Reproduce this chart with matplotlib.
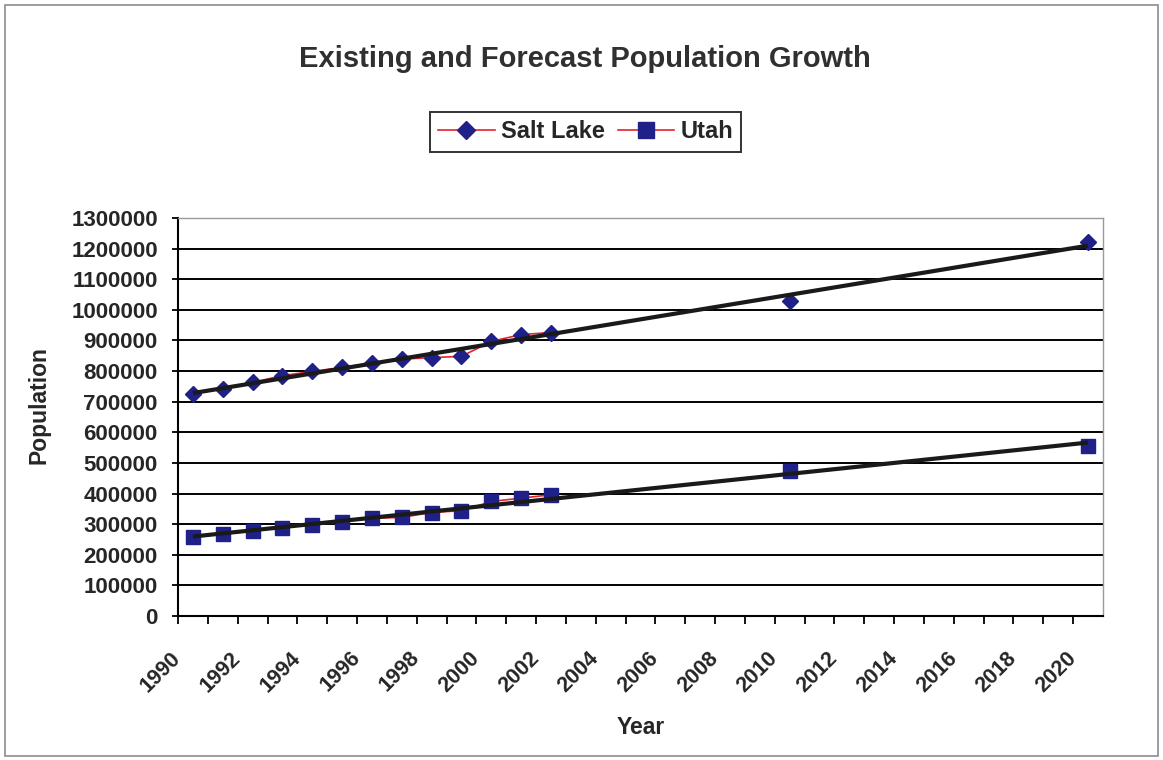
import numpy as np
import matplotlib
matplotlib.use("Agg")
import matplotlib.pyplot as plt
from matplotlib.patches import Rectangle

plt.rcParams['font.family'] = ['Liberation Sans', 'DejaVu Sans']

# Categories on the horizontal axis (one per year)
years = list(range(1990, 2021))

# Observed / forecast populations (years without a value are left out)
salt_lake = {1990: 726000, 1991: 742000, 1992: 763000, 1993: 785000, 1994: 799000,
             1995: 812000, 1996: 826000, 1997: 839000, 1998: 844000, 1999: 848000,
             2000: 897000, 2001: 919000, 2002: 926000, 2010: 1028000, 2020: 1222000}
utah = {1990: 259000, 1991: 267000, 1992: 278000, 1993: 289000, 1994: 298000,
        1995: 308000, 1996: 319000, 1997: 322000, 1998: 338000, 1999: 344000,
        2000: 374000, 2001: 385000, 2002: 396000, 2010: 472000, 2020: 554000}

y_ticks = list(range(0, 1300001, 100000))

title = "Existing and Forecast Population Growth"
series_names = ["Salt Lake", "Utah"]

W, H = 1163, 760
fig = plt.figure(figsize=(W / 100, H / 100), dpi=100)
fig.patch.set_facecolor("white")

# outer chart border
fig.add_artist(Rectangle((5 / W, 4 / H), 1153 / W, 751 / H, transform=fig.transFigure,
                         fill=False, edgecolor="#8c8c8c", linewidth=1.2))

left, right, top, bottom = 178, 1103, 218, 616
ax = fig.add_axes([left / W, 1 - bottom / H, (right - left) / W, (bottom - top) / H])

idx = np.arange(len(years))
navy = "#1f2088"
text_col = "#262626"


def series_array(d):
    return np.array([d.get(y, np.nan) for y in years], dtype=float)


handles = []
for name, data, marker, ms in [(series_names[0], salt_lake, "D", 7.8),
                               (series_names[1], utah, "s", 9.6)]:
    vals = series_array(data)
    h, = ax.plot(idx, vals, color="#e8202a", linewidth=1.2, marker=marker,
                 markersize=ms, markerfacecolor=navy, markeredgecolor=navy,
                 label=name, zorder=3)
    handles.append(h)
    # linear trend over all available points
    ok = ~np.isnan(vals)
    coef = np.polyfit(idx[ok], vals[ok], 1)
    xt = np.array([idx[0], idx[-1]])
    ax.plot(xt, np.polyval(coef, xt), color="#1a1a1a", linewidth=3.0, zorder=4,
            solid_capstyle="butt")

ax.set_xlim(-0.5, len(years) - 0.5)
ax.set_ylim(0, 1300000)

# horizontal gridlines and value labels
ax.set_yticks(y_ticks)
ax.set_yticklabels([str(v) for v in y_ticks], fontsize=16, fontweight="bold",
                   color=text_col)
ax.yaxis.grid(True, color="black", linewidth=1.4)
ax.set_axisbelow(True)
ax.tick_params(axis="y", length=4.5, width=1.3, direction="out", pad=10)

# category boundaries carry the ticks; every second one is labelled
ax.set_xticks(idx[::2] - 0.5)
ax.set_xticklabels([str(y) for y in years[::2]], rotation=45, ha="right", va="center",
                   rotation_mode="anchor", fontsize=15.5, fontweight="bold",
                   color=text_col)
ax.set_xticks(idx[1::2] - 0.5, minor=True)
ax.tick_params(axis="x", which="major", length=6, width=1.3, direction="out", pad=22)
ax.tick_params(axis="x", which="minor", length=6, width=1.3, direction="out")

for s in ["top", "right"]:
    ax.spines[s].set_color("#9a9a9a")
    ax.spines[s].set_linewidth(1.0)
for s in ["left", "bottom"]:
    ax.spines[s].set_color("black")
    ax.spines[s].set_linewidth(1.5)

fig.text(39 / W, 1 - 405 / H, "Population", rotation=90, ha="center", va="center",
         fontsize=16.5, fontweight="bold", color=text_col)
fig.text(641 / W, 1 - 734 / H, "Year", ha="center", va="baseline",
         fontsize=16.5, fontweight="bold", color=text_col)

fig.text(585 / W, 1 - 67 / H, title, ha="center", va="baseline",
         fontsize=21, fontweight="bold", color="#303030")

leg = fig.legend(handles=handles, loc="center", bbox_to_anchor=(585.5 / W, 1 - 132 / H),
                 ncol=2, frameon=True, fancybox=False,
                 prop={"weight": "bold", "size": 17}, handlelength=2.4,
                 columnspacing=0.55, handletextpad=0.25, borderpad=0.35,
                 borderaxespad=0, markerscale=1.15)
leg.get_frame().set_edgecolor("black")
leg.get_frame().set_linewidth(1.4)
for t in leg.get_texts():
    t.set_color(text_col)

fig.savefig("out.png", dpi=100, facecolor="white")
